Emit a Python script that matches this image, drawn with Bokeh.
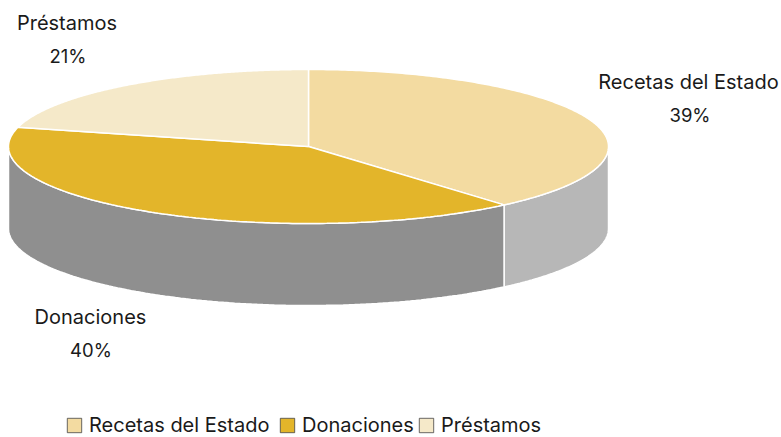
import numpy as np
from bokeh.embed import file_html
from bokeh.resources import INLINE
from bokeh.models import Range1d, Legend, LegendItem, ColumnDataSource
from bokeh.plotting import figure
from bokeh.core.properties import value

categories = ["Recetas del Estado", "Donaciones", "Préstamos"]
shares = [38.7, 40.3, 21.0]
pct_labels = ["39%", "40%", "21%"]
top_colors = ["#f3dba1", "#e3b52a", "#f5e9c9"]
side_colors = ["#b7b7b7", "#8f8f8f", "#d0d0d0"]
name_x = [688, 90, 66.5]
pct_x = [689.5, 90.5, 67.5]
name_y = [81, 316, 22]
pct_y = [114, 349, 55]
legend_x = [65, 278, 417]
FONT = "Inter"
FSIZE = "20px"
PCT_SIZE = "18.5px"

cx, cy, rx, ry, depth = 308.0, 146.0, 300.0, 77.0, 82.0

p = figure(width=781, height=437, output_backend="svg", toolbar_location=None,
           x_range=Range1d(0, 781), y_range=Range1d(437, 0), min_border=0)
p.xaxis.visible = False
p.yaxis.visible = False
p.grid.visible = False
p.outline_line_color = None


def ell(a):
    return cx + rx * np.sin(a), cy - ry * np.cos(a)


edges = np.radians(np.cumsum([0] + shares) * 3.6)

# side walls: only the front half of the rim (90..270 deg) shows
for i in range(3):
    a0, a1 = max(edges[i], np.pi / 2), min(edges[i + 1], 3 * np.pi / 2)
    if a1 <= a0:
        continue
    t = np.linspace(a0, a1, 120)
    x, y = ell(t)
    xs = np.r_[x, x[::-1]]
    ys = np.r_[y, (y + depth)[::-1]]
    p.patch(xs, ys, fill_color=side_colors[i], line_color="white", line_width=1.5)

# top faces
for i in range(3):
    t = np.linspace(edges[i], edges[i + 1], 200)
    x, y = ell(t)
    p.patch(np.r_[cx, x], np.r_[cy, y], fill_color=top_colors[i], line_color="white", line_width=1.5)

# labels
for i, c in enumerate(categories):
    p.text([name_x[i]], [name_y[i]], text=[c], text_align="center", text_baseline="middle",
           text_font=value(FONT), text_font_size=FSIZE, text_color="#1a1a1a")
    p.text([pct_x[i]], [pct_y[i]], text=[pct_labels[i]], text_align="center", text_baseline="middle",
           text_font=value(FONT), text_font_size=PCT_SIZE, text_color="#1a1a1a")

# legend (swatches come from off-range quads)
for i, c in enumerate(categories):
    src = ColumnDataSource(dict(l=[-100], r=[-90], t=[-100], b=[-90]))
    r = p.quad(left="l", right="r", top="t", bottom="b", source=src, fill_color=top_colors[i],
               line_color="#444444", line_width=0.8)
    leg = Legend(items=[LegendItem(label=value(c), renderers=[r])], orientation="horizontal",
                 location=(legend_x[i], 0), border_line_color=None,
                 background_fill_alpha=0, label_text_font=FONT, label_text_font_size=FSIZE,
                 label_text_color="#1a1a1a", glyph_width=18, glyph_height=18, padding=0, margin=0,
                 label_standoff=6)
    p.add_layout(leg, "center")

open("out.html", "w").write(file_html(p, INLINE))
